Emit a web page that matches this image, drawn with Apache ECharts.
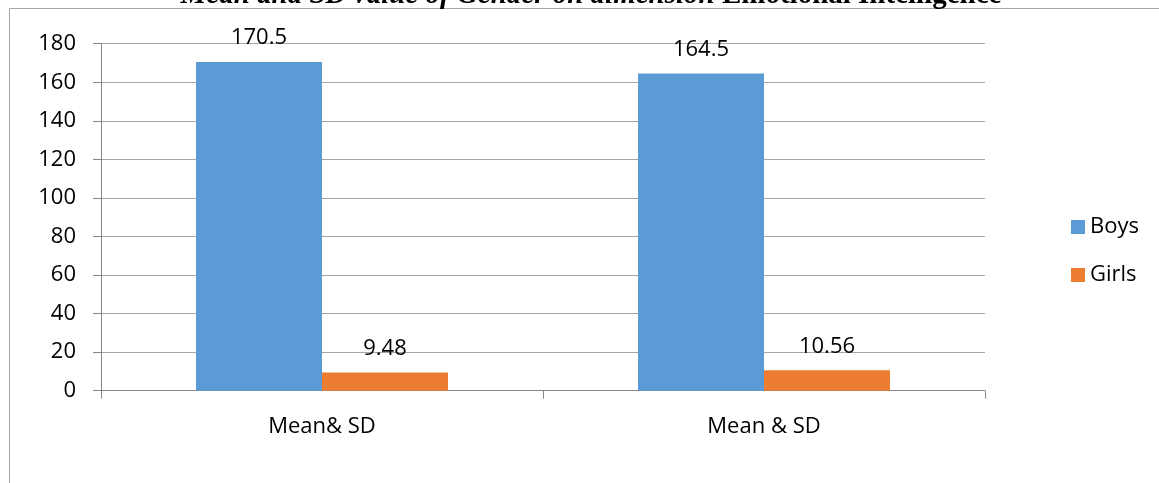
<!DOCTYPE html>
<html><head><meta charset="utf-8">
<script src="https://cdn.jsdelivr.net/npm/echarts@6/dist/echarts.min.js"></script>
<style>html,body{margin:0;padding:0;background:#fff}#c{width:1159px;height:483px}</style>
</head><body><div id="c"></div>
<script>
const categories = ['Mean& SD', 'Mean & SD'];
const boys = [170.5, 164.5];
const girls = [9.48, 10.56];
const seriesNames = ['Boys', 'Girls'];
const yMin = 0, yMax = 180, yStep = 20;

const F = 'Open Sans';
const chart = echarts.init(document.getElementById('c'));
const labelStyle = {show: true, position: 'top', distance: 13, color: '#000', fontFamily: F, fontSize: 22};
chart.setOption({
  animation: false,
  title: {
    text: '{i|Mean and SD value of Gender on dimension }{b|Emotional Intelligence}',
    left: 586, textAlign: 'center', top: -24,
    textStyle: {rich: {
      i: {fontFamily: 'Liberation Serif', fontStyle: 'italic', fontWeight: 'bold', fontSize: 29, color: '#000'},
      b: {fontFamily: 'Liberation Serif', fontWeight: 'bold', fontSize: 29, color: '#000'}
    }}
  },
  graphic: [{type: 'rect', shape: {x: 9.5, y: 8.5, width: 1300, height: 600}, style: {fill: 'none', stroke: '#a6a6a6', lineWidth: 1}, z: -1}],
  grid: {left: 101, right: 174, top: 43.7, bottom: 92.3, containLabel: false},
  legend: {
    data: seriesNames, orient: 'vertical', left: 1066, top: 211, itemWidth: 14, itemHeight: 14, itemGap: 26,
    icon: 'rect', textStyle: {fontFamily: F, fontSize: 22, color: '#000'}
  },
  xAxis: {
    type: 'category', data: categories,
    axisLine: {lineStyle: {color: '#868686', width: 1}},
    axisTick: {show: true, alignWithLabel: false, length: 8, lineStyle: {color: '#868686'}},
    axisLabel: {fontFamily: F, fontSize: 22, color: '#000', margin: 25}
  },
  yAxis: {
    type: 'value', min: yMin, max: yMax, interval: yStep,
    axisLine: {show: true, lineStyle: {color: '#868686'}},
    axisTick: {show: true, length: 8, lineStyle: {color: '#868686'}},
    axisLabel: {fontFamily: F, fontSize: 22, color: '#000', margin: 25},
    splitLine: {lineStyle: {color: '#a6a6a6', width: 1}}
  },
  series: [
    {name: seriesNames[0], type: 'bar', data: boys, barWidth: 126, barGap: '0%', itemStyle: {color: '#5b9bd5'}, label: labelStyle},
    {name: seriesNames[1], type: 'bar', data: girls, barWidth: 126, barGap: '0%', itemStyle: {color: '#ed7d31'}, label: labelStyle}
  ]
});
</script></body></html>
